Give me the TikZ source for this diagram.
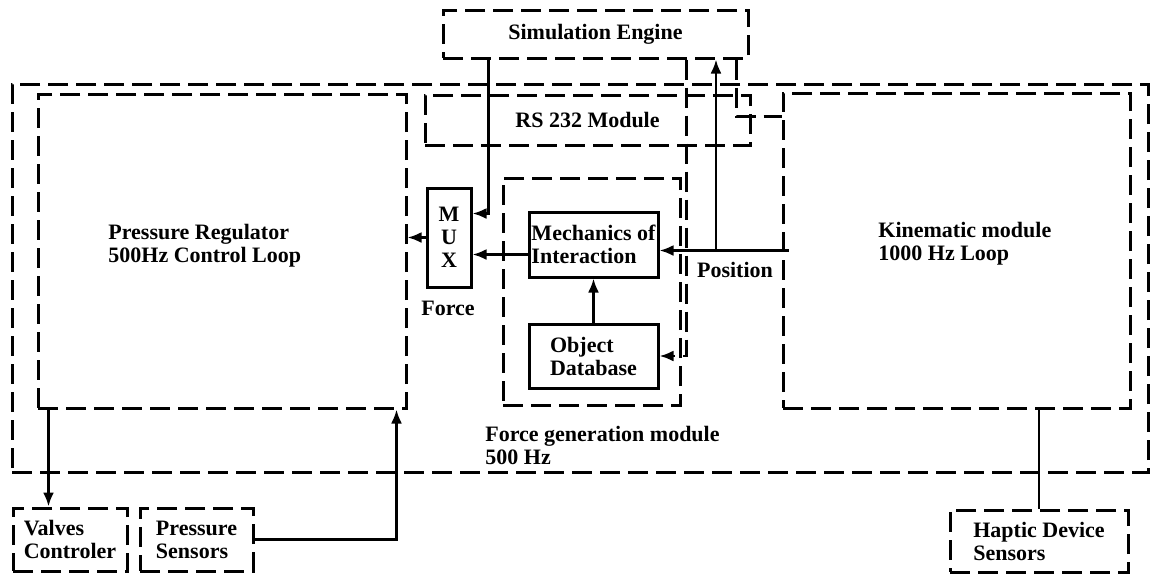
\documentclass[tikz,border=0pt]{standalone}
\usepackage{fontspec}
\setmainfont{Liberation Serif}
\usetikzlibrary{arrows.meta}
\begin{document}
\begin{tikzpicture}[x = 0.5pt, y = -0.5pt,
        font = \fontsize{11}{11.5}\selectfont\bfseries,
        dbox/.style = {draw, line width = 1.5pt, dash pattern = on 10pt off 4pt, inner sep = 0pt, align = left},
        sbox/.style = {draw, line width = 1.5pt, inner sep = 0pt, align = left},
        flow/.style = {line width = 1.3pt, -{Latex[length = 7pt, width = 5.5pt]}},
        dflow/.style = {flow, dash pattern = on 10pt off 4pt},
        lbl/.style = {align = left, anchor = west, inner sep = 0pt}]
        \useasboundingbox (0, 0) rectangle (1153, 575);

        \node[dbox, minimum width = 568pt, minimum height = 194pt] (outer) at (580, 278) {};
        \node[dbox, minimum width = 184pt, minimum height = 157pt] (press) at (222, 251) {};
        \node[dbox, minimum width = 173.5pt, minimum height = 157.5pt] (kin) at (956.5, 250.5) {};
        \node[dbox, minimum width = 162.5pt, minimum height = 25pt] (rs) at (587.5, 120) {RS 232 Module};
        \node[dbox, minimum width = 152.5pt, minimum height = 24pt] (sim) at (595.5, 34) {Simulation Engine};
        \node[dbox, minimum width = 88.5pt, minimum height = 113.5pt] (forcegen) at (591.5, 291.5) {};

        \node[sbox, align = center, minimum width = 22pt, minimum height = 49.5pt] (mux) at (449, 237.5) {M\\U\\X};
        \node[sbox, minimum width = 64.5pt, minimum height = 32.5pt] (mech) at (593.5, 244.5) {Mechanics of\\Interaction};
        \node[sbox, minimum width = 64.5pt, minimum height = 32pt] (objdb) at (593.5, 356) {Object\\Database};

        \node[dbox, minimum width = 57pt, minimum height = 31.5pt] (valves) at (70, 539.5) {Valves\\Controler};
        \node[dbox, minimum width = 56.5pt, minimum height = 31.5pt] (psens) at (196.5, 539.5) {Pressure\\Sensors};
        \node[dbox, minimum width = 89pt, minimum height = 31pt] (haptic) at (1039, 541) {Haptic Device\\Sensors};

        \node[lbl] (presslbl) at (108, 246) {Pressure Regulator\\500Hz Control Loop};
        \node[lbl] (kinlbl) at (878, 244) {Kinematic module\\1000 Hz Loop};
        \node[lbl] (forcegenlbl) at (485, 445) {Force generation module\\500 Hz};
        \node (forcelbl) at (448, 308) {Force};
        \node (poslbl) at (735, 270) {Position};

        \coordinate (postap) at (716, 250.5);

        \draw[flow] ([xshift = 23.5pt]sim.south west) |- ([yshift = -13.5pt]mux.north east);
        \draw[flow] (mux.west) -- (press.east |- mux.west);
        \draw[flow] ([yshift = -5pt]mech.west) coordinate (mtap) -- (mtap -| mux.east);
        \draw[flow] (objdb.north) -- (mech.south);
        \draw[flow] ([xshift = 3.5pt]kin.west) -- (mech.east |- kin.west);
        \draw[flow] (postap) -- (postap |- sim.south);
        \draw[dflow] ([xshift = 122.5pt]sim.south west) |- (objdb.east);
        \draw[line width = 1.5pt, dash pattern = on 10pt off 4pt] ([xshift = 147.5pt]sim.south west) |- ([yshift = -12.5pt]kin.north west);

        \draw[flow] ([xshift = 6pt]press.south west) coordinate (vtap) -- (vtap |- valves.north);
        \draw[flow] (psens.east) -| ([xshift = -5.5pt]press.south east);
        \draw[line width = 1.3pt] (haptic.north) -- (haptic.north |- kin.south);
    \end{tikzpicture}
\end{document}
